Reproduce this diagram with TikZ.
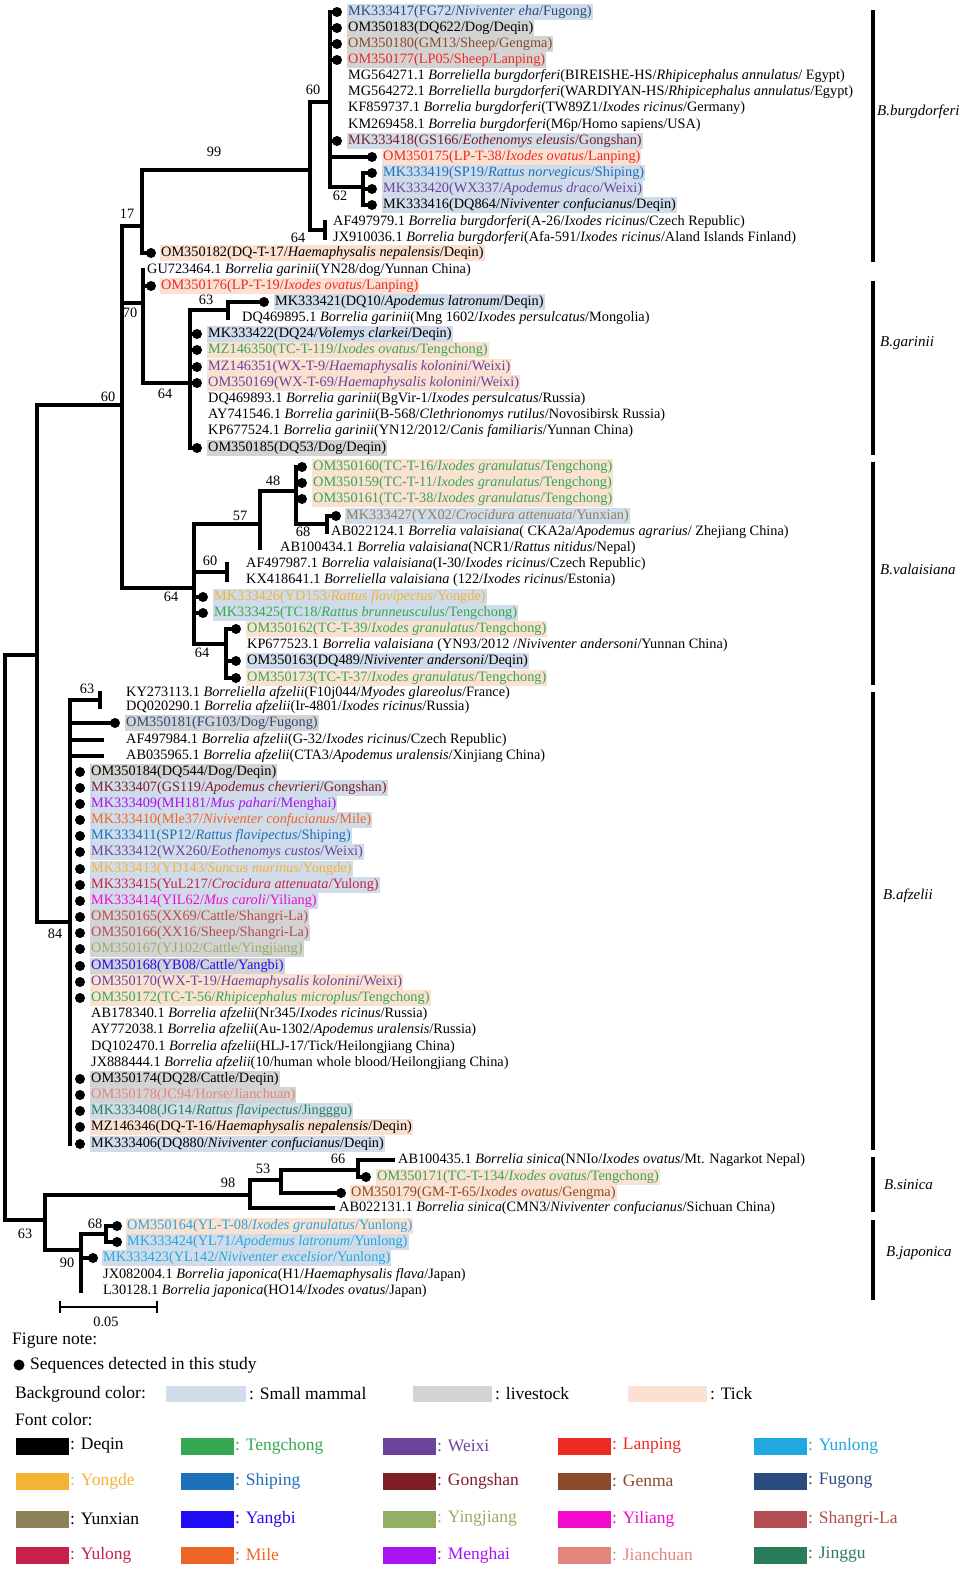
\documentclass[tikz,border=0pt]{standalone}
\usepackage{fontspec}
\setmainfont{Liberation Serif}
\definecolor{cDeqin}{HTML}{000000}
\definecolor{cTeng}{HTML}{35A853}
\definecolor{cWeixi}{HTML}{6A449B}
\definecolor{cLanping}{HTML}{EE2A24}
\definecolor{cYunlong}{HTML}{22A8E0}
\definecolor{cYongde}{HTML}{F5B335}
\definecolor{cShiping}{HTML}{1C71B8}
\definecolor{cGongshan}{HTML}{7E1F23}
\definecolor{cGenma}{HTML}{8B4A2B}
\definecolor{cFugong}{HTML}{2B4A7E}
\definecolor{cYunxian}{HTML}{8D8159}
\definecolor{cYangbi}{HTML}{200CF5}
\definecolor{cYingjiang}{HTML}{93AF63}
\definecolor{cYiliang}{HTML}{F40ACF}
\definecolor{cShangri}{HTML}{B24E51}
\definecolor{cYulong}{HTML}{C8204B}
\definecolor{cMile}{HTML}{EE6427}
\definecolor{cMenghai}{HTML}{AA12F0}
\definecolor{cJianchuan}{HTML}{E3857A}
\definecolor{cJinggu}{HTML}{287D58}
\definecolor{bgSm}{HTML}{D0DCEA}
\definecolor{bgLv}{HTML}{D3D3D3}
\definecolor{bgTk}{HTML}{FBE1D2}
\newcommand\myTreeFont{\fontsize{14.3}{16}\selectfont}
\newcommand\myLegFont{\fontsize{17.5}{20}\selectfont}
\newcommand\myCladeFont{\fontsize{15}{18}\selectfont\itshape}
\newcommand\myLeaf[6]{\node[lfs,#5] (#1) at (#2,#3+3.5) {\color{#4}#6};}
\newcommand\myDot[2]{\fill (#1,#2) circle (5pt);}
\tikzset{
  br/.style={line width=3.2pt, line cap=rect},
  lfs/.style={font=\myTreeFont, anchor=base west, inner xsep=1pt, inner ysep=0pt, text height=11.5pt, text depth=4.5pt},
  bS/.style={fill=bgSm}, bL/.style={fill=bgLv}, bT/.style={fill=bgTk}, bN/.style={},
  bsl/.style={font=\myTreeFont, inner sep=0pt},
  cladebar/.style={line width=3.5pt},
  clab/.style={font=\myCladeFont, anchor=west, inner sep=0pt},
  lgt/.style={font=\myLegFont, anchor=west, inner sep=0pt}}
\begin{document}
\begin{tikzpicture}[x=1pt,y=-1pt]
\useasboundingbox (0,0) rectangle (974,1582);
% ---------------- branches ----------------
\coordinate (nA) at (37,655);
\coordinate (nB) at (122,405);
\draw[br] (nA) -| (5,1220) -- (45,1220);
\draw[br] (nB) -| (37,922) -- (70,922);
\draw[br] (142,226) -| (122,588) -- (194,588);
\draw[br] (310,170) -| (142,253) -- (146,253);
\draw[br] (330,102) -| (310,230) -- (325,230);
\draw[br] (325,222) -- (325,238);
\draw[br] (330,12) -- (330,187) -- (363,187);
\draw[br] (330,157) -- (372,157);
\foreach \y in {12,28,44,60,141} {\draw[br] (330,\y) -- (337,\y);}
\draw[br] (363,173) -- (363,205);
\foreach \y in {173,189,205} {\draw[br] (363,\y) -- (371,\y);}
% garinii
\draw[br] (122,303) -- (143,303);
\draw[br] (143,270) -- (143,383) -- (190,383);
\draw[br] (143,286) -- (151,286);
\draw[br] (190,310) -- (190,448);
\draw[br] (190,310) -- (228,310);
\draw[br] (228,302) -- (228,318);
\draw[br] (228,302) -- (264,302);
\foreach \y in {334,350,367,383,448} {\draw[br] (190,\y) -- (197,\y);}
% valaisiana
\draw[br] (194,524) -- (194,644);
\draw[br] (194,524) -- (260,524);
\draw[br] (260,491) -- (260,548);
\draw[br] (260,491) -- (296,491);
\draw[br] (296,467) -- (296,524) -- (327,524);
\foreach \y in {467,483,499} {\draw[br] (296,\y) -- (302,\y);}
\draw[br] (327,516) -- (327,532);
\draw[br] (327,516) -- (336,516);
\draw[br] (194,572) -- (227,572);
\draw[br] (227,564) -- (227,580);
\foreach \y in {597,613} {\draw[br] (194,\y) -- (203,\y);}
\draw[br] (194,644) -- (226,644);
\draw[br] (226,629) -- (226,678);
\foreach \y in {629,661,678} {\draw[br] (226,\y) -- (236,\y);}
% afzelii
\draw[br] (70,700) -- (70,1144);
\draw[br] (70,700) -- (100,700);
\draw[br] (100,693) -- (100,707);
\draw[br] (70,723) -- (115,723);
\draw[br] (70,740) -- (102,740);
\draw[br] (70,756) -- (102,756);
% sinica / japonica
\draw[br] (45,1195) -- (45,1250);
\draw[br] (45,1195) -- (250,1195);
\draw[br] (250,1180) -- (250,1208) -- (333,1208);
\draw[br] (250,1180) -- (281,1180);
\draw[br] (281,1170) -- (281,1193) -- (341,1193);
\draw[br] (281,1170) -- (358,1170);
\draw[br] (358,1160) -- (358,1177) -- (366,1177);
\draw[br] (358,1160) -- (393,1160);
\draw[br] (45,1250) -- (81,1250);
\draw[br] (81,1234) -- (81,1291);
\draw[br] (81,1234) -- (106,1234);
\draw[br] (106,1226) -- (106,1242);
\foreach \y in {1226,1242} {\draw[br] (106,\y) -- (117,\y);}
\draw[br] (81,1258) -- (93,1258);
% ---------------- bootstrap values ----------------
\node[bsl] (b1) at (313,90) {60};
\node[bsl] (b2) at (214,152) {99};
\node[bsl] (b3) at (340,196) {62};
\node[bsl] (b4) at (298,238) {64};
\node[bsl] (b5) at (127,214) {17};
\node[bsl] (b6) at (130,313) {70};
\node[bsl] (b7) at (206,300) {63};
\node[bsl] (b8) at (165,394) {64};
\node[bsl] (b9) at (108,397) {60};
\node[bsl] (b10) at (273,481) {48};
\node[bsl] (b11) at (240,516) {57};
\node[bsl] (b12) at (303,532) {68};
\node[bsl] (b13) at (210,561) {60};
\node[bsl] (b14) at (171,597) {64};
\node[bsl] (b15) at (202,653) {64};
\node[bsl] (b16) at (87,689) {63};
\node[bsl] (b17) at (55,934) {84};
\node[bsl] (b18) at (338,1159) {66};
\node[bsl] (b19) at (263,1169) {53};
\node[bsl] (b20) at (228,1183) {98};
\node[bsl] (b21) at (25,1234) {63};
\node[bsl] (b22) at (95,1224) {68};
\node[bsl] (b23) at (67,1263) {90};
% ---------------- dots ----------------
\foreach \y in {12,28,44,60,141} {\myDot{337}{\y}}
\foreach \y in {157,173,189,205} {\myDot{372}{\y}}
\myDot{151}{253}
\myDot{151}{286}
\myDot{264}{302}
\foreach \y in {334,350,367,383,448} {\myDot{197}{\y}}
\foreach \y in {467,483,499} {\myDot{302}{\y}}
\myDot{336}{516}
\foreach \y in {597,613} {\myDot{203}{\y}}
\foreach \y in {629,661,678} {\myDot{236}{\y}}
\myDot{115}{723}
\foreach \y in {772,788,804,820,836,852,869,885,901,917,933,949,966,982,998,1079,1095,1111,1127,1144} {\myDot{80}{\y}}
\myDot{366}{1177}
\myDot{341}{1193}
\myDot{117}{1226}
\myDot{117}{1242}
\myDot{93}{1258}
% ---------------- leaves ----------------
\myLeaf{l1}{347}{12}{cFugong}{bS}{MK333417(FG72/\textit{Niviventer eha}/Fugong)}
\myLeaf{l2}{347}{28}{black}{bL}{OM350183(DQ622/Dog/Deqin)}
\myLeaf{l3}{347}{44}{cGenma}{bL}{OM350180(GM13/Sheep/Gengma)}
\myLeaf{l4}{347}{60}{cLanping}{bL}{OM350177(LP05/Sheep/Lanping)}
\myLeaf{l5}{347}{76}{black}{bN}{MG564271.1 \textit{Borreliella burgdorferi}(BIREISHE-HS/\textit{Rhipicephalus annulatus}/ Egypt)}
\myLeaf{l6}{347}{92}{black}{bN}{MG564272.1 \textit{Borreliella burgdorferi}(WARDIYAN-HS/\textit{Rhipicephalus annulatus}/Egypt)}
\myLeaf{l7}{347}{108}{black}{bN}{KF859737.1 \textit{Borrelia burgdorferi}(TW89Z1/\textit{Ixodes ricinus}/Germany)}
\myLeaf{l8}{347}{125}{black}{bN}{KM269458.1 \textit{Borrelia burgdorferi}(M6p/Homo sapiens/USA)}
\myLeaf{l9}{347}{141}{cGongshan}{bS}{MK333418(GS166/\textit{Eothenomys eleusis}/Gongshan)}
\myLeaf{l10}{382}{157}{cLanping}{bT}{OM350175(LP-T-38/\textit{Ixodes ovatus}/Lanping)}
\myLeaf{l11}{382}{173}{cShiping}{bS}{MK333419(SP19/\textit{Rattus norvegicus}/Shiping)}
\myLeaf{l12}{382}{189}{cWeixi}{bS}{MK333420(WX337/\textit{Apodemus draco}/Weixi)}
\myLeaf{l13}{382}{205}{black}{bS}{MK333416(DQ864/\textit{Niviventer confucianus}/Deqin)}
\myLeaf{l14}{332}{222}{black}{bN}{AF497979.1 \textit{Borrelia burgdorferi}(A-26/\textit{Ixodes ricinus}/Czech Republic)}
\myLeaf{l15}{332}{238}{black}{bN}{JX910036.1 \textit{Borrelia burgdorferi}(Afa-591/\textit{Ixodes ricinus}/Aland Islands Finland)}
\myLeaf{l16}{160}{253}{black}{bT}{OM350182(DQ-T-17/\textit{Haemaphysalis nepalensis}/Deqin)}
\myLeaf{l17}{146}{270}{black}{bN}{GU723464.1 \textit{Borrelia garinii}(YN28/dog/Yunnan China)}
\myLeaf{l18}{160}{286}{cLanping}{bT}{OM350176(LP-T-19/\textit{Ixodes ovatus}/Lanping)}
\myLeaf{l19}{274}{302}{black}{bS}{MK333421(DQ10/\textit{Apodemus latronum}/Deqin)}
\myLeaf{l20}{241}{318}{black}{bN}{DQ469895.1 \textit{Borrelia garinii}(Mng 1602/\textit{Ixodes persulcatus}/Mongolia)}
\myLeaf{l21}{207}{334}{black}{bS}{MK333422(DQ24/\textit{Volemys clarkei}/Deqin)}
\myLeaf{l22}{207}{350}{cTeng}{bT}{MZ146350(TC-T-119/\textit{Ixodes ovatus}/Tengchong)}
\myLeaf{l23}{207}{367}{cWeixi}{bT}{MZ146351(WX-T-9/\textit{Haemaphysalis kolonini}/Weixi)}
\myLeaf{l24}{207}{383}{cWeixi}{bT}{OM350169(WX-T-69/\textit{Haemaphysalis kolonini}/Weixi)}
\myLeaf{l25}{207}{399}{black}{bN}{DQ469893.1 \textit{Borrelia garinii}(BgVir-1/\textit{Ixodes persulcatus}/Russia)}
\myLeaf{l26}{207}{415}{black}{bN}{AY741546.1 \textit{Borrelia garinii}(B-568/\textit{Clethrionomys rutilus}/Novosibirsk Russia)}
\myLeaf{l27}{207}{431}{black}{bN}{KP677524.1 \textit{Borrelia garinii}(YN12/2012/\textit{Canis familiaris}/Yunnan China)}
\myLeaf{l28}{207}{448}{black}{bL}{OM350185(DQ53/Dog/Deqin)}
\myLeaf{l29}{312}{467}{cTeng}{bT}{OM350160(TC-T-16/\textit{Ixodes granulatus}/Tengchong)}
\myLeaf{l30}{312}{483}{cTeng}{bT}{OM350159(TC-T-11/\textit{Ixodes granulatus}/Tengchong)}
\myLeaf{l31}{312}{499}{cTeng}{bT}{OM350161(TC-T-38/\textit{Ixodes granulatus}/Tengchong)}
\myLeaf{l32}{345}{516}{cYunxian}{bS}{MK333427(YX02/\textit{Crocidura attenuata}/Yunxian)}
\myLeaf{l33}{330}{532}{black}{bN}{AB022124.1 \textit{Borrelia valaisiana}( CKA2a/\textit{Apodemus agrarius}/ Zhejiang China)}
\myLeaf{l34}{279}{548}{black}{bN}{AB100434.1 \textit{Borrelia valaisiana}(NCR1/\textit{Rattus nitidus}/Nepal)}
\myLeaf{l35}{245}{564}{black}{bN}{AF497987.1 \textit{Borrelia valaisiana}(I-30/\textit{Ixodes ricinus}/Czech Republic)}
\myLeaf{l36}{245}{580}{black}{bN}{KX418641.1 \textit{Borreliella valaisiana} (122/\textit{Ixodes ricinus}/Estonia)}
\myLeaf{l37}{213}{597}{cYongde}{bS}{MK333426(YD153/\textit{Rattus flavipectus}/Yongde)}
\myLeaf{l38}{213}{613}{cTeng}{bS}{MK333425(TC18/\textit{Rattus brunneusculus}/Tengchong)}
\myLeaf{l39}{246}{629}{cTeng}{bT}{OM350162(TC-T-39/\textit{Ixodes granulatus}/Tengchong)}
\myLeaf{l40}{246}{645}{black}{bN}{KP677523.1 \textit{Borrelia valaisiana} (YN93/2012 /\textit{Niviventer andersoni}/Yunnan China)}
\myLeaf{l41}{246}{661}{black}{bS}{OM350163(DQ489/\textit{Niviventer andersoni}/Deqin)}
\myLeaf{l42}{246}{678}{cTeng}{bT}{OM350173(TC-T-37/\textit{Ixodes granulatus}/Tengchong)}
\myLeaf{l43}{125}{693}{black}{bN}{KY273113.1 \textit{Borreliella afzelii}(F10j044/\textit{Myodes glareolus}/France)}
\myLeaf{l44}{125}{707}{black}{bN}{DQ020290.1 \textit{Borrelia afzelii}(Ir-4801/\textit{Ixodes ricinus}/Russia)}
\myLeaf{l45}{125}{723}{cFugong}{bL}{OM350181(FG103/Dog/Fugong)}
\myLeaf{l46}{125}{740}{black}{bN}{AF497984.1 \textit{Borrelia afzelii}(G-32/\textit{Ixodes ricinus}/Czech Republic)}
\myLeaf{l47}{125}{756}{black}{bN}{AB035965.1 \textit{Borrelia afzelii}(CTA3/\textit{Apodemus uralensis}/Xinjiang China)}
\myLeaf{l48}{90}{772}{black}{bL}{OM350184(DQ544/Dog/Deqin)}
\myLeaf{l49}{90}{788}{cGongshan}{bS}{MK333407(GS119/\textit{Apodemus chevrieri}/Gongshan)}
\myLeaf{l50}{90}{804}{cMenghai}{bS}{MK333409(MH181/\textit{Mus pahari}/Menghai)}
\myLeaf{l51}{90}{820}{cMile}{bS}{MK333410(Mle37/\textit{Niviventer confucianus}/Mile)}
\myLeaf{l52}{90}{836}{cShiping}{bS}{MK333411(SP12/\textit{Rattus flavipectus}/Shiping)}
\myLeaf{l53}{90}{852}{cWeixi}{bS}{MK333412(WX260/\textit{Eothenomys custos}/Weixi)}
\myLeaf{l54}{90}{869}{cYongde}{bS}{MK333413(YD143/\textit{Suncus murinus}/Yongde)}
\myLeaf{l55}{90}{885}{cYulong}{bS}{MK333415(YuL217/\textit{Crocidura attenuata}/Yulong)}
\myLeaf{l56}{90}{901}{cYiliang}{bS}{MK333414(YIL62/\textit{Mus caroli}/Yiliang)}
\myLeaf{l57}{90}{917}{cShangri}{bL}{OM350165(XX69/Cattle/Shangri-La)}
\myLeaf{l58}{90}{933}{cShangri}{bL}{OM350166(XX16/Sheep/Shangri-La)}
\myLeaf{l59}{90}{949}{cYingjiang}{bL}{OM350167(YJ102/Cattle/Yingjiang)}
\myLeaf{l60}{90}{966}{cYangbi}{bL}{OM350168(YB08/Cattle/Yangbi)}
\myLeaf{l61}{90}{982}{cWeixi}{bT}{OM350170(WX-T-19/\textit{Haemaphysalis kolonini}/Weixi)}
\myLeaf{l62}{90}{998}{cTeng}{bT}{OM350172(TC-T-56/\textit{Rhipicephalus microplus}/Tengchong)}
\myLeaf{l63}{90}{1014}{black}{bN}{AB178340.1 \textit{Borrelia afzelii}(Nr345/\textit{Ixodes ricinus}/Russia)}
\myLeaf{l64}{90}{1030}{black}{bN}{AY772038.1 \textit{Borrelia afzelii}(Au-1302/\textit{Apodemus uralensis}/Russia)}
\myLeaf{l65}{90}{1047}{black}{bN}{DQ102470.1 \textit{Borrelia afzelii}(HLJ-17/Tick/Heilongjiang China)}
\myLeaf{l66}{90}{1063}{black}{bN}{JX888444.1 \textit{Borrelia afzelii}(10/human whole blood/Heilongjiang China)}
\myLeaf{l67}{90}{1079}{black}{bL}{OM350174(DQ28/Cattle/Deqin)}
\myLeaf{l68}{90}{1095}{cJianchuan}{bL}{OM350178(JC94/Horse/Jianchuan)}
\myLeaf{l69}{90}{1111}{cJinggu}{bS}{MK333408(JG14/\textit{Rattus flavipectus}/Jingggu)}
\myLeaf{l70}{90}{1127}{black}{bT}{MZ146346(DQ-T-16/\textit{Haemaphysalis nepalensis}/Deqin)}
\myLeaf{l71}{90}{1144}{black}{bS}{MK333406(DQ880/\textit{Niviventer confucianus}/Deqin)}
\myLeaf{l72}{397}{1160}{black}{bN}{AB100435.1 \textit{Borrelia sinica}(NNIo/\textit{Ixodes ovatus}/Mt. Nagarkot Nepal)}
\myLeaf{l73}{376}{1177}{cTeng}{bT}{OM350171(TC-T-134/\textit{Ixodes ovatus}/Tengchong)}
\myLeaf{l74}{350}{1193}{cGenma}{bT}{OM350179(GM-T-65/\textit{Ixodes ovatus}/Gengma)}
\myLeaf{l75}{338}{1208}{black}{bN}{AB022131.1 \textit{Borrelia sinica}(CMN3/\textit{Niviventer confucianus}/Sichuan China)}
\myLeaf{l76}{126}{1226}{cYunlong}{bT}{OM350164(YL-T-08/\textit{Ixodes granulatus}/Yunlong)}
\myLeaf{l77}{126}{1242}{cYunlong}{bS}{MK333424(YL71/\textit{Apodemus latronum}/Yunlong)}
\myLeaf{l78}{102}{1258}{cYunlong}{bS}{MK333423(YL142/\textit{Niviventer excelsior}/Yunlong)}
\myLeaf{l79}{102}{1275}{black}{bN}{JX082004.1 \textit{Borrelia japonica}(H1/\textit{Haemaphysalis flava}/Japan)}
\myLeaf{l80}{102}{1291}{black}{bN}{L30128.1 \textit{Borrelia japonica}(HO14/\textit{Ixodes ovatus}/Japan)}
% ---------------- clade bars ----------------
\draw[cladebar] (873,10) -- (873,262);
\draw[cladebar] (873,281) -- (873,455);
\draw[cladebar] (873,462) -- (873,685);
\draw[cladebar] (873,692) -- (873,1150);
\draw[cladebar] (873,1157) -- (873,1212);
\draw[cladebar] (873,1220) -- (873,1300);
\node[clab] (c1) at (877,112) {B.burgdorferi};
\node[clab] (c2) at (880,343) {B.garinii};
\node[clab] (c3) at (880,569) {B.valaisiana};
\node[clab] (c4) at (883,896) {B.afzelii};
\node[clab] (c5) at (884,1185) {B.sinica};
\node[clab] (c6) at (886,1253) {B.japonica};
% ---------------- scale bar ----------------
\coordinate (s1) at (60,1307);
\coordinate (s2) at (157,1307);
\draw[line width=2.5pt] (s1) -- (s2);
\draw[line width=2.5pt] (60,1301) -- (60,1313);
\draw[line width=2.5pt] (157,1301) -- (157,1313);
\node[bsl] (sc) at (106,1322) {0.05};
% ---------------- legend ----------------
\node[lgt] (fn) at (12,1341) {Figure note:};
\fill (19,1365) circle (5.5pt);
\node[lgt] (sq) at (30,1365) {Sequences detected in this study};
\node[lgt] (bgc) at (15,1394) {Background color:};
\fill[bgSm] (166,1386) rectangle (246,1402);
\node[lgt] (sm) at (249,1394) {: Small mammal};
\fill[bgLv] (413,1386) rectangle (492,1402);
\node[lgt] (lv) at (495,1394) {: livestock};
\fill[bgTk] (628,1386) rectangle (707,1402);
\node[lgt] (tk) at (710,1394) {: Tick};
\node[lgt] (fc) at (15,1420) {Font color:};
\foreach \cx/\cy/\cc/\tc/\nm [count=\i] in {
  16/1446/cDeqin/black/Deqin, 181/1446/cTeng/cTeng/Tengchong, 383/1446/cWeixi/cWeixi/Weixi, 558/1446/cLanping/cLanping/Lanping, 754/1446/cYunlong/cYunlong/Yunlong,
  16/1481/cYongde/cYongde/Yongde, 181/1481/cShiping/cShiping/Shiping, 383/1481/cGongshan/cGongshan/Gongshan, 558/1481/cGenma/cGenma/Genma, 754/1481/cFugong/cFugong/Fugong,
  16/1519/cYunxian/black/Yunxian, 181/1519/cYangbi/cYangbi/Yangbi, 383/1519/cYingjiang/cYingjiang/Yingjiang, 558/1519/cYiliang/cYiliang/Yiliang, 754/1519/cShangri/cShangri/Shangri-La,
  16/1555/cYulong/cYulong/Yulong, 181/1555/cMile/cMile/Mile, 383/1555/cMenghai/cMenghai/Menghai, 558/1555/cJianchuan/cJianchuan/Jianchuan, 754/1555/cJinggu/cJinggu/Jinggu}{
  \fill[\cc] (\cx,\cy-8.5) rectangle (\cx+53,\cy+8.5);
  \node[lgt] (lg\i) at (\cx+54,\cy) {\color{\tc}: \nm};
}
\end{tikzpicture}
\end{document}
